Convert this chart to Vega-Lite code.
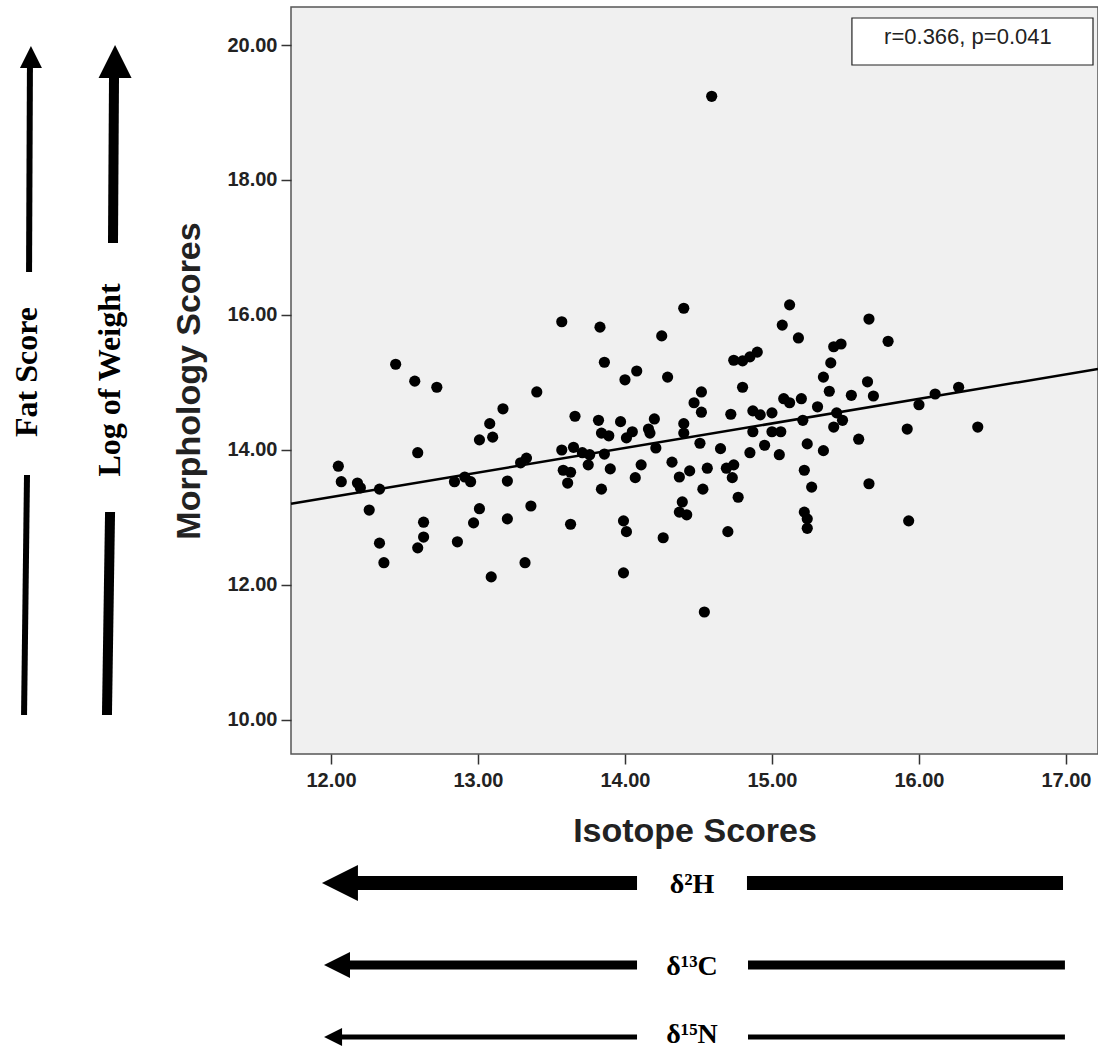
{
  "$schema": "https://vega.github.io/schema/vega-lite/v6.json",
  "width": 807,
  "height": 747,
  "autosize": {"type": "none"},
  "padding": {"left": 291, "top": 7, "right": 0, "bottom": 295},
  "background": "white",
  "config": {"view": {"fill": "#F0F0F0", "stroke": "#555555", "strokeWidth": 1.5}},
  "datasets": {
    "points": [
      {"x":12.05,"y":13.76},{"x":12.07,"y":13.53},{"x":12.18,"y":13.51},{"x":12.20,"y":13.44},{"x":12.33,"y":13.42},{"x":12.26,"y":13.11},{"x":12.33,"y":12.62},{"x":12.36,"y":12.33},{"x":12.44,"y":15.27},{"x":12.57,"y":15.02},{"x":12.72,"y":14.93},{"x":12.59,"y":13.96},{"x":12.63,"y":12.93},{"x":12.63,"y":12.71},{"x":12.59,"y":12.55},{"x":12.84,"y":13.53},{"x":12.91,"y":13.60},{"x":12.95,"y":13.53},{"x":12.86,"y":12.64},{"x":12.97,"y":12.92},{"x":13.01,"y":13.13},{"x":13.01,"y":14.15},{"x":13.10,"y":14.19},{"x":13.08,"y":14.39},{"x":13.17,"y":14.61},{"x":13.09,"y":12.12},{"x":13.20,"y":13.54},{"x":13.20,"y":12.98},{"x":13.29,"y":13.81},{"x":13.33,"y":13.88},{"x":13.36,"y":13.17},{"x":13.32,"y":12.33},{"x":13.40,"y":14.86},{"x":13.57,"y":15.90},{"x":13.83,"y":15.82},{"x":14.40,"y":16.10},{"x":14.25,"y":15.69},{"x":13.86,"y":15.30},{"x":14.00,"y":15.04},{"x":14.08,"y":15.17},{"x":14.29,"y":15.08},{"x":13.66,"y":14.50},{"x":13.82,"y":14.44},{"x":13.97,"y":14.42},{"x":13.84,"y":14.25},{"x":13.89,"y":14.21},{"x":14.01,"y":14.18},{"x":14.05,"y":14.27},{"x":14.16,"y":14.31},{"x":14.20,"y":14.46},{"x":14.17,"y":14.25},{"x":14.40,"y":14.39},{"x":14.40,"y":14.25},{"x":13.57,"y":14.00},{"x":13.65,"y":14.04},{"x":13.71,"y":13.96},{"x":13.76,"y":13.93},{"x":13.86,"y":13.94},{"x":13.58,"y":13.70},{"x":13.63,"y":13.67},{"x":13.61,"y":13.51},{"x":13.75,"y":13.78},{"x":13.90,"y":13.72},{"x":13.84,"y":13.42},{"x":13.63,"y":12.90},{"x":13.99,"y":12.95},{"x":14.01,"y":12.79},{"x":13.99,"y":12.18},{"x":14.11,"y":13.78},{"x":14.07,"y":13.59},{"x":14.21,"y":14.03},{"x":14.26,"y":12.70},{"x":14.32,"y":13.82},{"x":14.37,"y":13.60},{"x":14.44,"y":13.69},{"x":14.39,"y":13.23},{"x":14.37,"y":13.08},{"x":14.42,"y":13.04},{"x":14.52,"y":14.86},{"x":14.47,"y":14.70},{"x":14.52,"y":14.56},{"x":14.51,"y":14.10},{"x":14.56,"y":13.73},{"x":14.53,"y":13.42},{"x":14.54,"y":11.60},{"x":14.59,"y":19.24},{"x":14.65,"y":14.02},{"x":14.72,"y":14.53},{"x":14.69,"y":13.73},{"x":14.74,"y":13.78},{"x":14.73,"y":13.59},{"x":14.77,"y":13.30},{"x":14.70,"y":12.79},{"x":14.80,"y":14.93},{"x":14.74,"y":15.33},{"x":14.80,"y":15.32},{"x":14.85,"y":15.38},{"x":14.90,"y":15.45},{"x":14.85,"y":13.96},{"x":14.87,"y":14.58},{"x":14.92,"y":14.52},{"x":15.00,"y":14.55},{"x":14.87,"y":14.27},{"x":15.00,"y":14.27},{"x":15.06,"y":14.27},{"x":14.95,"y":14.07},{"x":15.05,"y":13.93},{"x":15.08,"y":14.76},{"x":15.12,"y":14.70},{"x":15.20,"y":14.76},{"x":15.21,"y":14.44},{"x":15.24,"y":14.09},{"x":15.22,"y":13.70},{"x":15.27,"y":13.45},{"x":15.22,"y":13.08},{"x":15.24,"y":12.98},{"x":15.24,"y":12.84},{"x":15.31,"y":14.64},{"x":15.35,"y":13.99},{"x":15.35,"y":15.08},{"x":15.39,"y":14.87},{"x":15.40,"y":15.29},{"x":15.42,"y":15.53},{"x":15.47,"y":15.57},{"x":15.44,"y":14.55},{"x":15.48,"y":14.44},{"x":15.42,"y":14.34},{"x":15.54,"y":14.81},{"x":15.59,"y":14.16},{"x":15.65,"y":15.01},{"x":15.69,"y":14.80},{"x":15.66,"y":15.94},{"x":15.66,"y":13.50},{"x":15.79,"y":15.61},{"x":15.92,"y":14.31},{"x":15.93,"y":12.95},{"x":16.00,"y":14.67},{"x":16.11,"y":14.83},{"x":16.27,"y":14.93},{"x":16.40,"y":14.34},{"x":15.12,"y":16.15},{"x":15.07,"y":15.85},{"x":15.18,"y":15.66}
    ],
    "fit": [{"x":11.728,"y":13.203},{"x":17.218,"y":15.2}],
    "box": [{"x":15.544,"y":20.4,"x2":17.184,"y2":19.704}],
    "segments": [
      {"g":"fat","x":9.912,"y":10.074,"x2":9.932,"y2":13.63},
      {"g":"fat","x":9.946,"y":16.637,"x2":9.952,"y2":19.70},
      {"g":"log","x":10.476,"y":10.074,"x2":10.497,"y2":13.081},
      {"g":"log","x":10.517,"y":17.067,"x2":10.524,"y2":19.55},
      {"g":"h2","x":14.082,"y":7.585,"x2":12.10,"y2":7.585},
      {"g":"h2","x":14.83,"y":7.585,"x2":16.98,"y2":7.585},
      {"g":"c13","x":14.082,"y":6.37,"x2":12.06,"y2":6.37},
      {"g":"c13","x":14.837,"y":6.37,"x2":16.993,"y2":6.37},
      {"g":"n15","x":14.082,"y":5.304,"x2":12.04,"y2":5.304},
      {"g":"n15","x":14.837,"y":5.304,"x2":16.993,"y2":5.304}
    ],
    "heads": [
      {"g":"fat","x":9.959,"y":19.822},
      {"g":"log","x":10.531,"y":19.756},
      {"g":"h2","x":12.061,"y":7.585},
      {"g":"c13","x":12.041,"y":6.37},
      {"g":"n15","x":12.014,"y":5.304}
    ],
    "labels": [
      {"k":"side","t":"Fat Score","x":9.932,"y":15.156},
      {"k":"side","t":"Log of Weight","x":10.497,"y":15.037},
      {"k":"iso","t":"δ²H","x":14.456,"y":7.556},
      {"k":"iso","t":"δ¹³C","x":14.456,"y":6.341},
      {"k":"iso","t":"δ¹⁵N","x":14.456,"y":5.33},
      {"k":"stat","t":"r=0.366, p=0.041","x":16.333,"y":20.119}
    ]
  },
  "encoding": {
    "x": {"field": "x", "type": "quantitative",
      "scale": {"domain": [11.728, 17.218], "nice": false, "zero": false},
      "axis": {"values": [12,13,14,15,16,17], "format": ".2f", "title": "Isotope Scores", "grid": false, "domain": false,
        "tickSize": 10, "tickColor": "#333333", "tickWidth": 1.5, "labelFont": "Liberation Sans", "labelFontWeight": "bold", "labelFontSize": 20,
        "labelColor": "#222222", "labelPadding": 6, "labelFlush": false, "labelOverlap": false,
        "titleFont": "Liberation Sans", "titleFontSize": 34, "titleFontWeight": "bold", "titleColor": "#222222", "titlePadding": 24}},
    "y": {"field": "y", "type": "quantitative",
      "scale": {"domain": [9.496, 20.563], "nice": false, "zero": false},
      "axis": {"values": [10,12,14,16,18,20], "format": ".2f", "title": "Morphology Scores", "grid": false, "domain": false,
        "tickSize": 10, "tickColor": "#333333", "tickWidth": 1.5, "labelFont": "Liberation Sans", "labelFontWeight": "bold", "labelFontSize": 20,
        "labelColor": "#222222", "labelPadding": 4, "labelFlush": false, "labelOverlap": false,
        "titleFont": "Liberation Sans", "titleFontSize": 34, "titleFontWeight": "bold", "titleColor": "#222222", "titlePadding": 20}}
  },
  "layer": [
    {"data": {"name": "points"}, "mark": {"type": "point", "shape": "circle", "filled": true, "color": "#000000", "opacity": 1, "size": 125}},
    {"data": {"name": "fit"}, "mark": {"type": "line", "color": "#000000", "strokeWidth": 2.5}},
    {"data": {"name": "box"}, "mark": {"type": "rect", "fill": "#FFFFFF", "stroke": "#222222", "strokeWidth": 1.2},
      "encoding": {"x2": {"field": "x2"}, "y2": {"field": "y2"}}},
    {"data": {"name": "segments"}, "transform": [{"filter": "datum.g == 'fat'"}], "mark": {"type": "rule", "color": "#000000", "strokeWidth": 6, "strokeCap": "butt"},
      "encoding": {"x2": {"field": "x2"}, "y2": {"field": "y2"}}},
    {"data": {"name": "segments"}, "transform": [{"filter": "datum.g == 'log'"}], "mark": {"type": "rule", "color": "#000000", "strokeWidth": 10, "strokeCap": "butt"},
      "encoding": {"x2": {"field": "x2"}, "y2": {"field": "y2"}}},
    {"data": {"name": "segments"}, "transform": [{"filter": "datum.g == 'h2'"}], "mark": {"type": "rule", "color": "#000000", "strokeWidth": 14, "strokeCap": "butt"},
      "encoding": {"x2": {"field": "x2"}, "y2": {"field": "y2"}}},
    {"data": {"name": "segments"}, "transform": [{"filter": "datum.g == 'c13'"}], "mark": {"type": "rule", "color": "#000000", "strokeWidth": 9, "strokeCap": "butt"},
      "encoding": {"x2": {"field": "x2"}, "y2": {"field": "y2"}}},
    {"data": {"name": "segments"}, "transform": [{"filter": "datum.g == 'n15'"}], "mark": {"type": "rule", "color": "#000000", "strokeWidth": 5, "strokeCap": "butt"},
      "encoding": {"x2": {"field": "x2"}, "y2": {"field": "y2"}}},
    {"data": {"name": "heads"}, "transform": [{"filter": "datum.g == 'fat'"}], "mark": {"type": "point", "shape": "M0,-1L1,1L-1,1Z", "filled": true, "color": "#000000", "opacity": 1, "size": 484}},
    {"data": {"name": "heads"}, "transform": [{"filter": "datum.g == 'log'"}], "mark": {"type": "point", "shape": "M0,-1L1,1L-1,1Z", "filled": true, "color": "#000000", "opacity": 1, "size": 1089}},
    {"data": {"name": "heads"}, "transform": [{"filter": "datum.g == 'h2'"}], "mark": {"type": "point", "shape": "M-1,0L1,-1L1,1Z", "filled": true, "color": "#000000", "opacity": 1, "size": 1296}},
    {"data": {"name": "heads"}, "transform": [{"filter": "datum.g == 'c13'"}], "mark": {"type": "point", "shape": "M-1,0L1,-1L1,1Z", "filled": true, "color": "#000000", "opacity": 1, "size": 676}},
    {"data": {"name": "heads"}, "transform": [{"filter": "datum.g == 'n15'"}], "mark": {"type": "point", "shape": "M-1,0L1,-1L1,1Z", "filled": true, "color": "#000000", "opacity": 1, "size": 324}},
    {"data": {"name": "labels"}, "transform": [{"filter": "datum.k == 'side'"}],
      "mark": {"type": "text", "font": "Liberation Serif", "fontWeight": "bold", "fontSize": 32, "angle": 270, "align": "center", "baseline": "middle", "color": "#000000"},
      "encoding": {"text": {"field": "t"}}},
    {"data": {"name": "labels"}, "transform": [{"filter": "datum.k == 'iso'"}],
      "mark": {"type": "text", "font": "Liberation Serif", "fontWeight": "bold", "fontSize": 28, "align": "center", "baseline": "middle", "color": "#000000"},
      "encoding": {"text": {"field": "t"}}},
    {"data": {"name": "labels"}, "transform": [{"filter": "datum.k == 'stat'"}],
      "mark": {"type": "text", "font": "Liberation Sans", "fontSize": 22, "align": "center", "baseline": "middle", "color": "#222222"},
      "encoding": {"text": {"field": "t"}}}
  ]
}
